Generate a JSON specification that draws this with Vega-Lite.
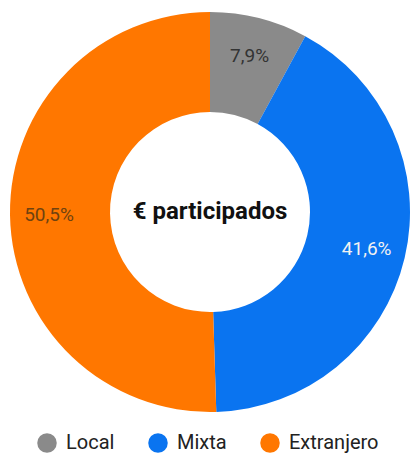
{
  "$schema": "https://vega.github.io/schema/vega-lite/v6.json",
  "width": 420,
  "height": 424,
  "padding": 0,
  "autosize": "pad",
  "background": "white",
  "config": {
    "view": {"stroke": null},
    "font": "Roboto",
    "locale": {"number": {"decimal": ",", "thousands": ".", "grouping": [3], "currency": ["", " €"]}}
  },
  "data": {"values": [
    {"tipo": "Local", "orden": 1, "share": 0.079},
    {"tipo": "Mixta", "orden": 2, "share": 0.416},
    {"tipo": "Extranjero", "orden": 3, "share": 0.505}
  ]},
  "layer": [
    {
      "mark": {"type": "arc", "outerRadius": 200, "innerRadius": 100},
      "encoding": {
        "theta": {"field": "share", "type": "quantitative", "stack": true},
        "order": {"field": "orden", "type": "quantitative"},
        "color": {
          "field": "tipo", "type": "nominal",
          "scale": {"domain": ["Local", "Mixta", "Extranjero"], "range": ["#8a8a8a", "#0a74f0", "#ff7700"]},
          "legend": {
            "title": null, "orient": "none", "direction": "horizontal",
            "legendX": 37, "legendY": 433,
            "symbolType": "circle", "symbolSize": 380, "symbolStrokeWidth": 0,
            "labelFontSize": 20, "labelFont": "Roboto", "labelColor": "#222222",
            "labelOffset": 9, "columnPadding": 33, "symbolOpacity": 1
          }
        }
      }
    },
    {
      "mark": {"type": "text", "radius": 161, "fontSize": 19, "font": "Roboto"},
      "encoding": {
        "theta": {"field": "share", "type": "quantitative", "stack": true},
        "order": {"field": "orden", "type": "quantitative"},
        "text": {"field": "share", "type": "quantitative", "format": ".1%"},
        "color": {
          "field": "tipo", "type": "nominal",
          "scale": {"domain": ["Local", "Mixta", "Extranjero"], "range": ["#333333", "#f2f2f2", "#6e4210"]},
          "legend": null
        }
      }
    },
    {
      "data": {"values": [{"titulo": "€ participados"}]},
      "mark": {"type": "text", "fontSize": 24, "fontWeight": "bold", "font": "Roboto", "color": "#111111"},
      "encoding": {"text": {"field": "titulo", "type": "nominal"}}
    }
  ],
  "resolve": {"scale": {"color": "independent"}}
}
